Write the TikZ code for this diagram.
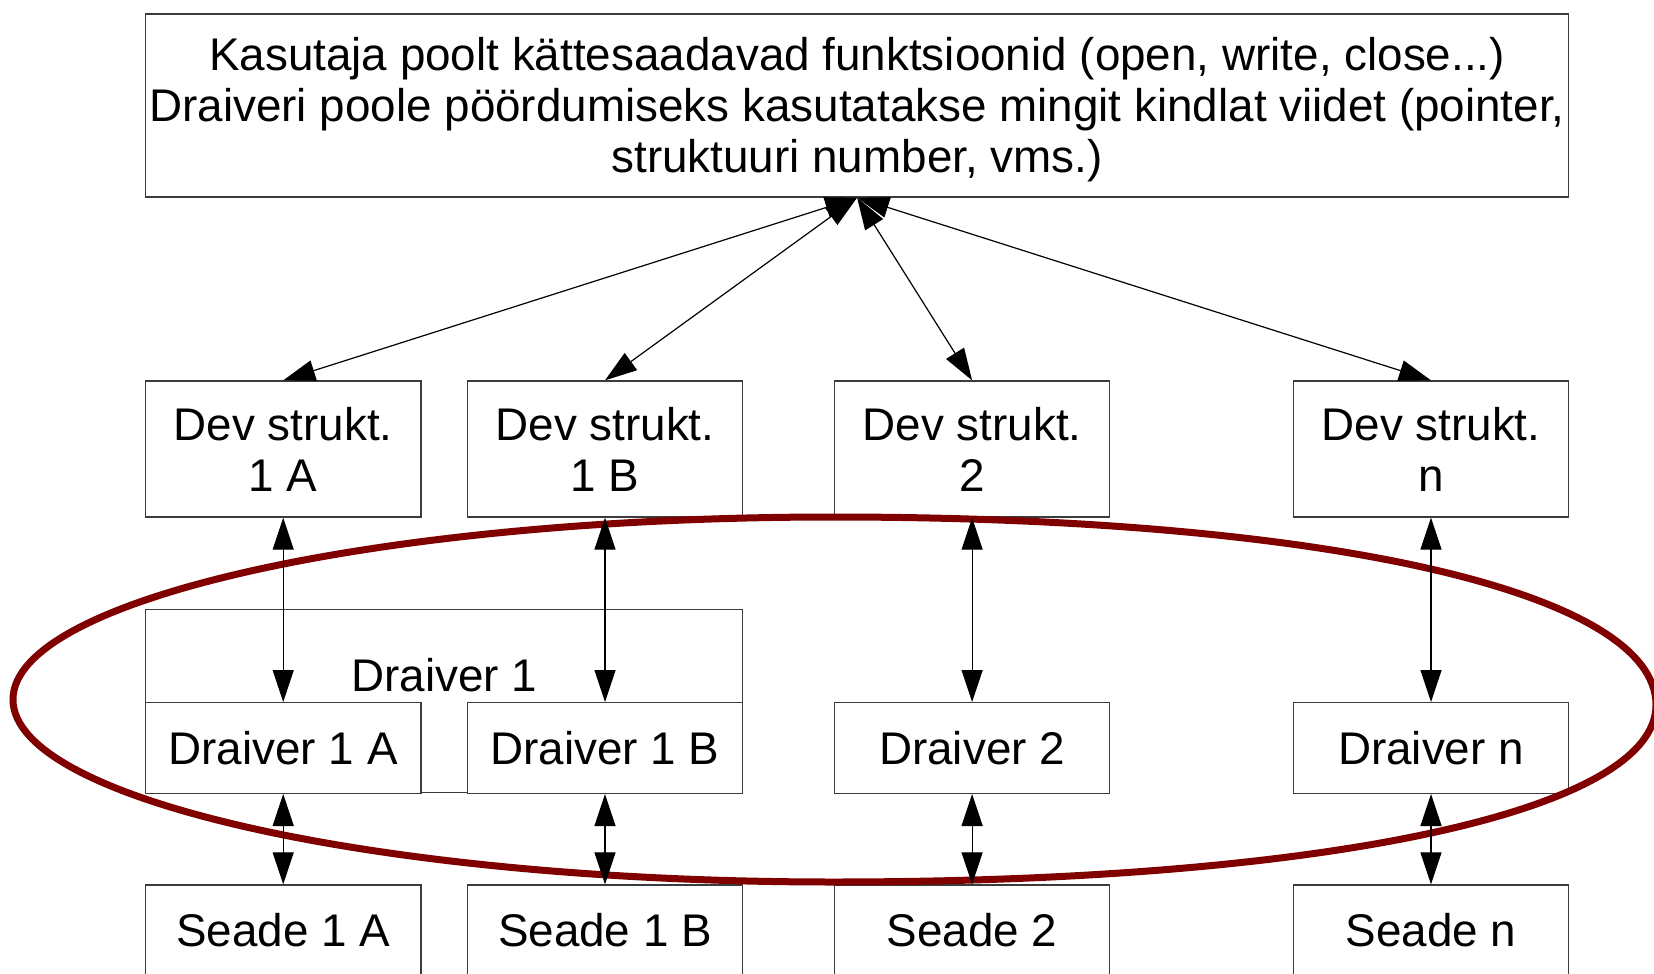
\documentclass[tikz,border=0pt]{standalone}
\usepackage{fontspec}
\setmainfont{Liberation Sans}
\usetikzlibrary{arrows.meta}
\definecolor{ringred}{RGB}{128,0,0}
\definecolor{boxline}{RGB}{60,60,60}
\begin{document}
\begin{tikzpicture}[x=0.5pt,y=-0.5pt,
  every node/.style={font=\fontsize{22.9pt}{25.5pt}\selectfont, inner sep=0pt, align=center},
  box/.style={draw=boxline, line width=0.65pt, fill=white, minimum width=137.65pt, minimum height=#1},
  box/.default=45.35pt,
  link/.style={{Triangle[length=16pt,width=10.5pt]}-{Triangle[length=16pt,width=10.5pt]}, line width=0.6pt, black},
  ring/.style={draw=ringred, line width=3.5pt}
]
\clip (0,0) rectangle (1654,974);

% top box with the user-level interface
\node[box, minimum width=711.5pt, minimum height=91.5pt] (top) at (857.1,105.5) {};
\node (toptext) at (857.1,109.5)
  {Kasutaja poolt kättesaadavad funktsioonid (open, write, close...)\\
   Draiveri poole pöördumiseks kasutatakse mingit kindlat viidet (pointer,\\
   struktuuri number, vms.)};

% device structures
\node[box=68pt] (dev1a) at (283.2,449) {Dev strukt.\\1 A};
\node[box=68pt] (dev1b) at (605,449)   {Dev strukt.\\1 B};
\node[box=68pt] (dev2)  at (972.1,449) {Dev strukt.\\2};
\node[box=68pt] (devn)  at (1431,449)  {Dev strukt.\\n};

% drivers
\node[box, minimum width=298.55pt, minimum height=91.25pt] (drv1) at (444.2,701) {};
\node (drv1label) at (444.2,675) {Draiver 1};
\node[box] (drv1a) at (283.2,748) {Draiver 1 A};
\node[box] (drv1b) at (605,748)   {Draiver 1 B};
\node[box] (drv2)  at (972.1,748) {Draiver 2};
\node[box] (drvn)  at (1431,748)  {Draiver n};

% devices
\node[box=45pt] (sd1a) at (283.2,930) {Seade 1 A};
\node[box=45pt] (sd1b) at (605,930)   {Seade 1 B};
\node[box=45pt] (sd2)  at (972.1,930) {Seade 2};
\node[box=45pt] (sdn)  at (1431,930)  {Seade n};

% kernel-side ring around the drivers: elliptic on the left, blunter on the right
\draw[ring] (833,517)
  .. controls (380.1,517) and (13,598.7) .. (13,699.5)
  .. controls (13,800.3) and (380.1,882) .. (833,882)
  .. controls (1326.8,882) and (1656,811.2) .. (1656,705)
  .. controls (1656,592.2) and (1326.8,517) .. (833,517) -- cycle;

% connectors
\draw[link] (dev1a.north) -- (top.south);
\draw[link] (dev1b.north) -- (top.south);
\draw[link] (dev2.north)  -- (top.south);
\draw[link] (devn.north)  -- (top.south);

\draw[link] (dev1a.south) -- (drv1a.north);
\draw[link] (dev1b.south) -- (drv1b.north);
\draw[link] (dev2.south)  -- (drv2.north);
\draw[link] (devn.south)  -- (drvn.north);

\draw[link] (drv1a.south) -- (sd1a.north);
\draw[link] (drv1b.south) -- (sd1b.north);
\draw[link] (drv2.south)  -- (sd2.north);
\draw[link] (drvn.south)  -- (sdn.north);
\end{tikzpicture}
\end{document}
